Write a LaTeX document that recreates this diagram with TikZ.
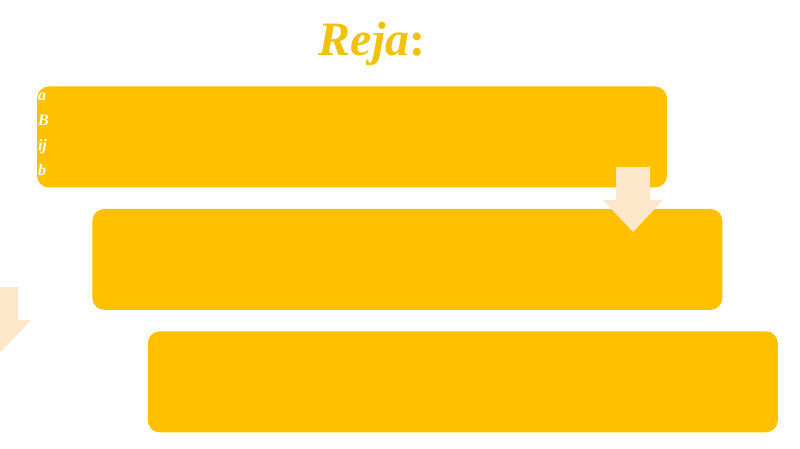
\documentclass[tikz,border=0pt]{standalone}
\usepackage{fontspec}
\setmainfont{Liberation Serif}
\usetikzlibrary{positioning}
\definecolor{boxfill}{RGB}{255,192,0}
\definecolor{titlegold}{RGB}{242,193,10}
\definecolor{arrowpeach}{RGB}{253,231,202}

\begin{document}
\begin{tikzpicture}[x=1pt,y=-1pt,
	stepbox/.style={fill=boxfill,rounded corners=12pt,minimum width=630pt,minimum height=101pt,inner sep=0pt},
	blockarrow/.style={fill=arrowpeach}]
		\useasboundingbox (0,0) rectangle (800,449);
		\node (title) at (372,44) {\fontsize{48}{52}\selectfont\color{titlegold}\textbf{\textit{Reja}:}};
		\node[stepbox] (b1) at (352,137) {};
		\node[stepbox,below right=21pt and -575pt of b1.south east,anchor=north west] (b2) {};
		\node[stepbox,below right=21pt and -575pt of b2.south east,anchor=north west] (b3) {};
		\node[anchor=north west,text width=16pt,inner sep=0pt,align=left,font=\fontsize{16}{25}\selectfont\itshape\bfseries,text=white] (side) at ([xshift=1pt,yshift=-6pt]b1.north west) {a\\B\\ij\\b};
		% arrows between steps
		\coordinate (a1) at (633,167);
		\coordinate (a2) at (1,287);
		\fill[blockarrow] (a1) ++(-17,0) -- ++(34,0) -- ++(0,33) -- ++(13,0) -- ++(-30,32) -- ++(-30,-32) -- ++(13,0) -- cycle;
		\fill[blockarrow] (a2) ++(-17,0) -- ++(34,0) -- ++(0,33) -- ++(13,0) -- ++(-30,32) -- ++(-30,-32) -- ++(13,0) -- cycle;
	\end{tikzpicture}
\end{document}
